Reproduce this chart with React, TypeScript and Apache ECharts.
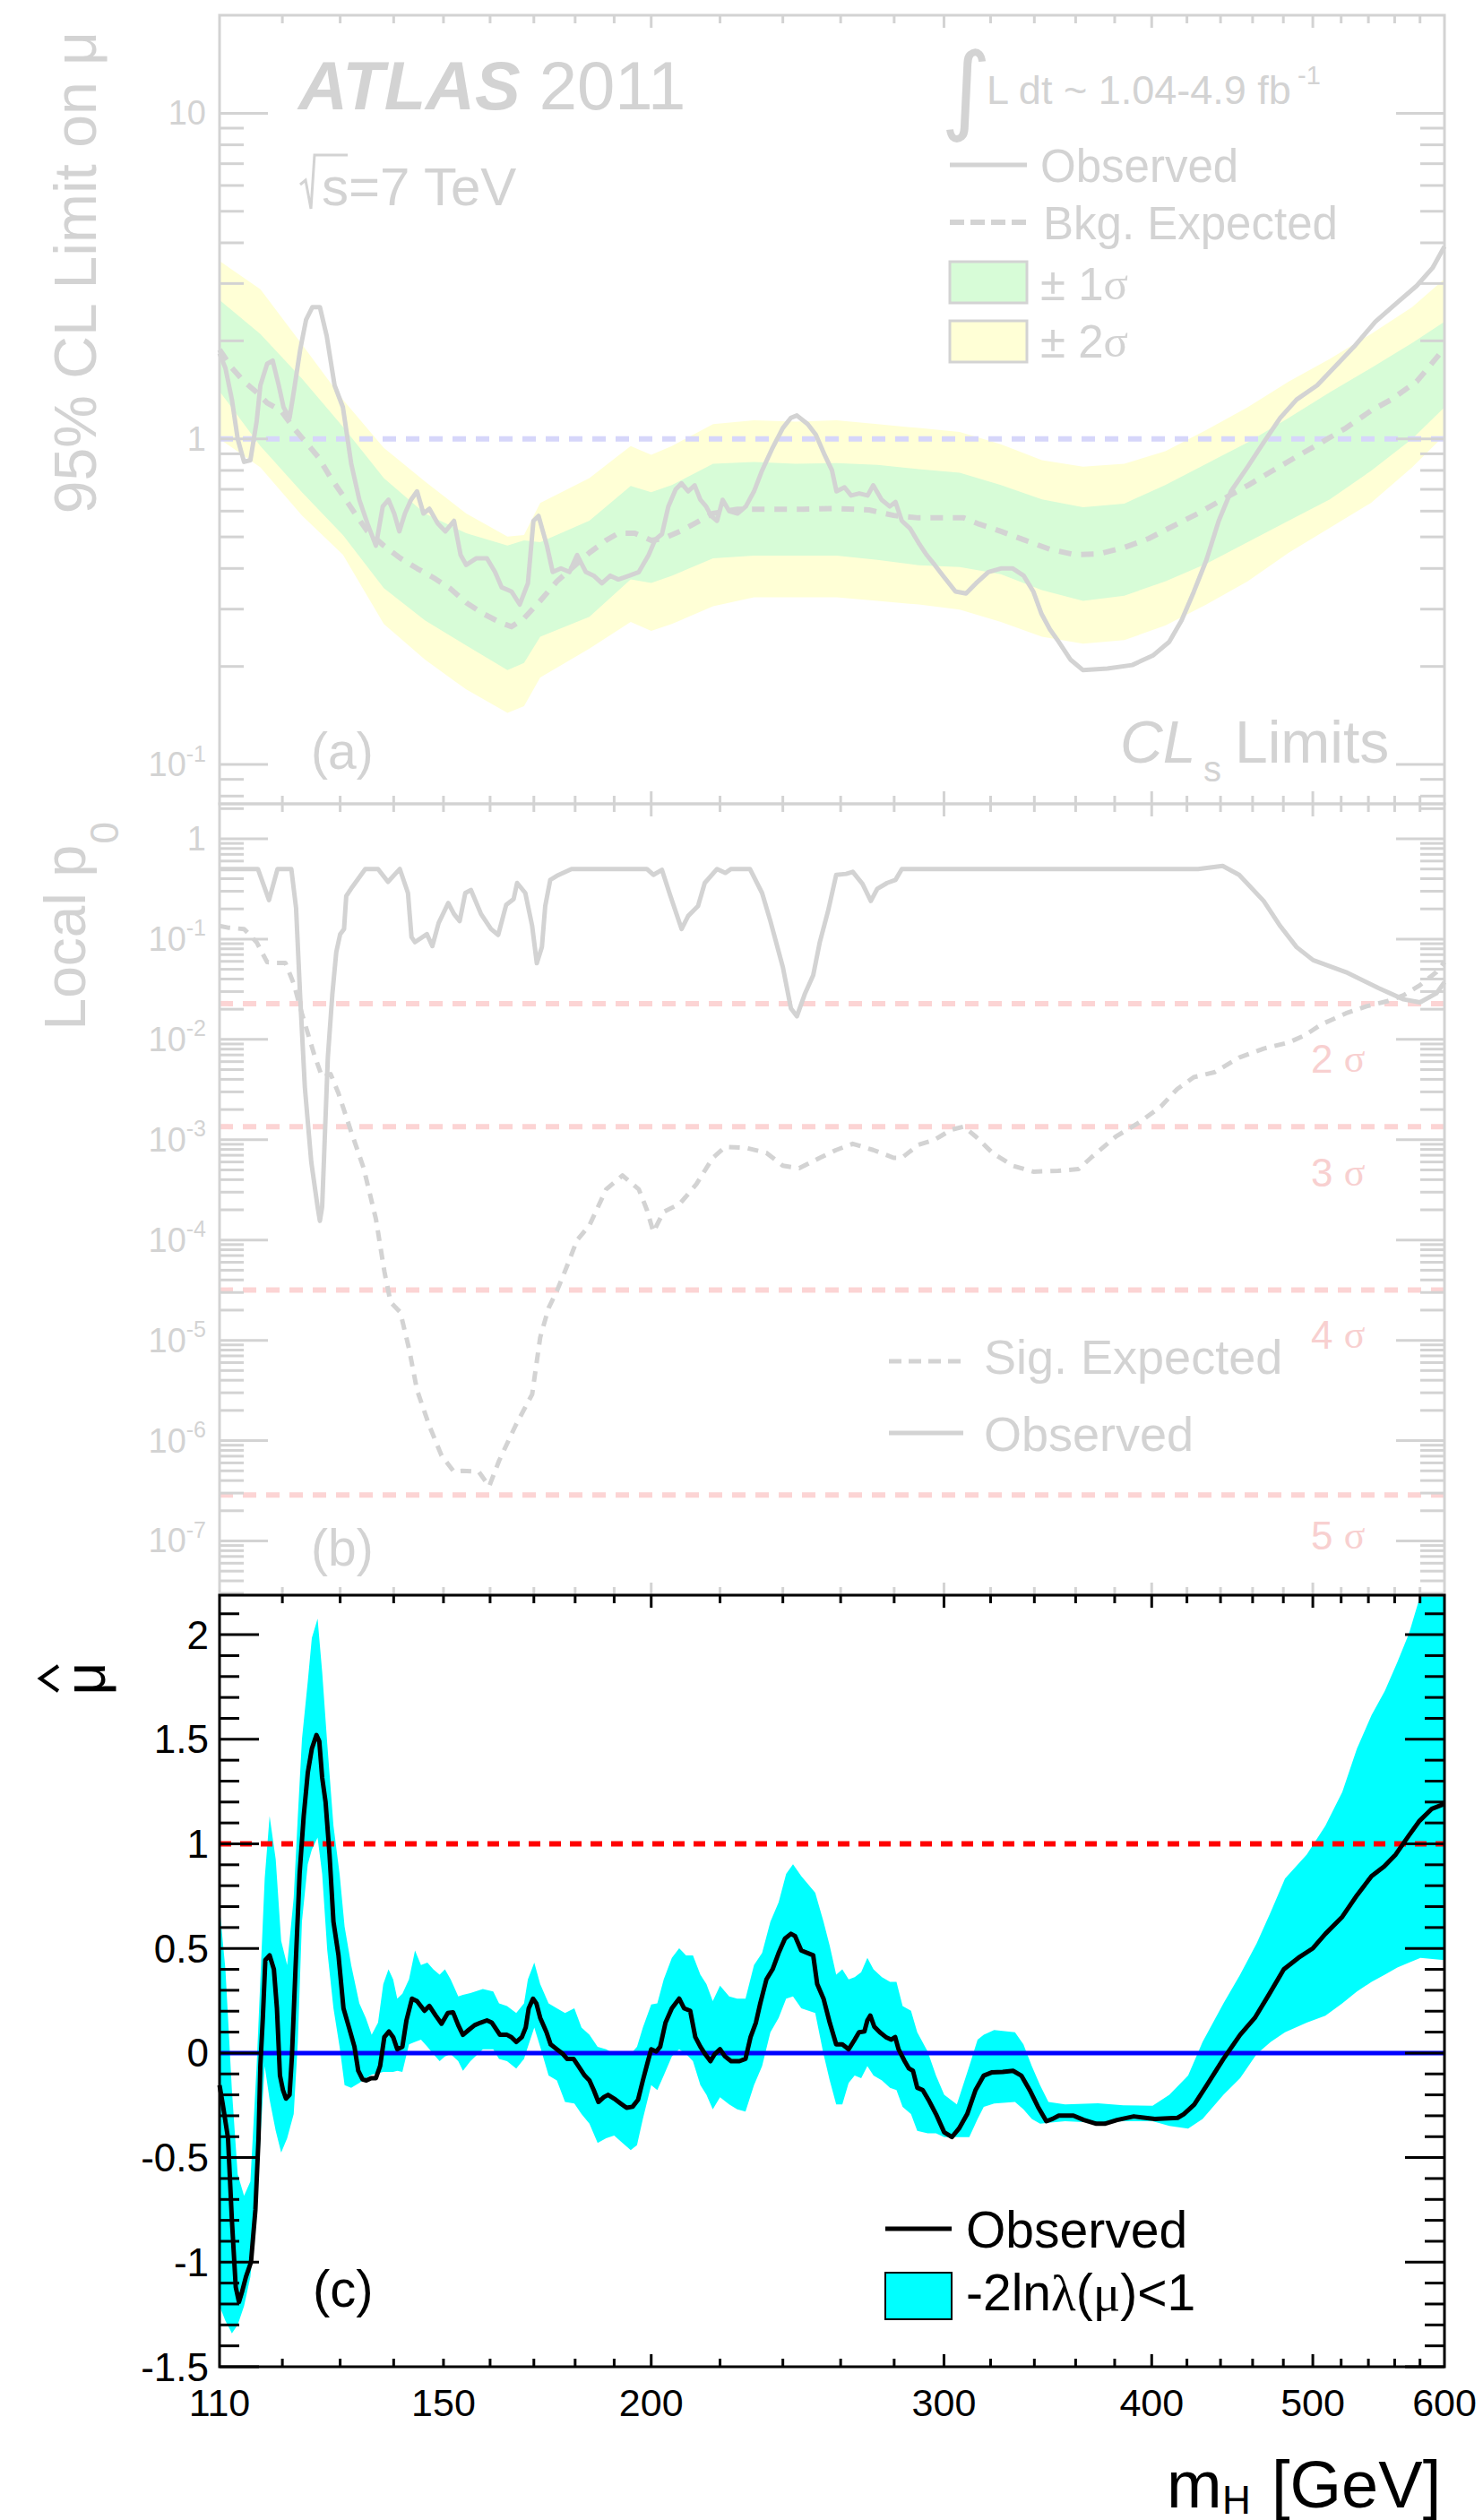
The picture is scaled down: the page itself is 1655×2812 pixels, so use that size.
import React, { useEffect, useRef } from 'react';
import * as echarts from 'echarts';

const FONT = 'Liberation Sans';
const SERIF = 'Liberation Serif';
const GRAY = '#d3d3d3';
const GREEN = '#d7fcd7';
const YELLOW = '#ffffd6';
const LBLUE = '#d6d6fa';
const LRED = '#fcd4d4';
const SIGRED = '#f8d0d0';
const CYAN = '#00ffff';

const lg = (v: number) => Math.log10(v);
const id = (v: number) => v;

// ---------- axis ranges ----------
const X_MIN = 110, X_MAX = 600;
const A_Y_MIN = 0.0757, A_Y_MAX = 20.0;
const B_Y_MIN = 2.88e-8, B_Y_MAX = 2.23;
const C_Y_MIN = -1.5, C_Y_MAX = 2.189;

// ---------- ticks / labels ----------
const X_LABELS = [110, 150, 200, 300, 400, 500, 600];
const X_MINOR_TICKS = [120, 130, 140, 150, 160, 170, 180, 190, 220, 240, 260, 280, 320, 340, 360, 380, 420, 440, 460, 480, 520, 540, 560, 580];
const X_MAJOR_TICKS = [200, 300, 400, 500];
const A_DECADES = [0.1, 1, 10];
const B_DECADES = [1e-7, 1e-6, 1e-5, 1e-4, 1e-3, 1e-2, 1e-1, 1];
const C_MAJOR = [-1.5, -1, -0.5, 0, 0.5, 1, 1.5, 2];
const C_MINOR = [-1.4, -1.3, -1.2, -1.1, -0.9, -0.8, -0.7, -0.6, -0.4, -0.3, -0.2, -0.1, 0.1, 0.2, 0.3, 0.4, 0.6, 0.7, 0.8, 0.9, 1.1, 1.2, 1.3, 1.4, 1.6, 1.7, 1.8, 1.9, 2.1];

// ---------- panel (a): 95% CL limit on mu ----------
const A_OBS = [[110,1.83],[110.9,1.65],[111.9,1.32],[112.8,1.0],[113.8,0.85],[114.8,0.86],[115.8,1.13],[116.4,1.46],[117.5,1.70],[118.4,1.74],[119.4,1.46],[120.2,1.25],[121.2,1.16],[121.9,1.39],[123.0,1.88],[124.0,2.32],[125.1,2.54],[126.4,2.54],[127.6,2.07],[129.0,1.46],[130.5,1.25],[132.0,0.84],[133.5,0.65],[135.0,0.55],[136.6,0.47],[137.9,0.62],[139.0,0.65],[140.1,0.59],[141.1,0.52],[142.2,0.59],[143.4,0.65],[144.6,0.69],[145.9,0.59],[147.1,0.61],[148.8,0.55],[150.4,0.52],[152.2,0.56],[153.6,0.44],[154.8,0.41],[157.0,0.43],[159.3,0.43],[161.1,0.39],[162.6,0.35],[164.8,0.34],[166.7,0.31],[168.6,0.36],[169.9,0.56],[171.1,0.58],[173.1,0.47],[174.5,0.39],[176.5,0.40],[178.6,0.39],[180.5,0.44],[182.7,0.39],[184.7,0.38],[186.8,0.36],[189.0,0.38],[191.1,0.37],[194.0,0.38],[196.6,0.39],[199.3,0.44],[201.1,0.49],[203.0,0.51],[204.8,0.62],[206.9,0.70],[208.6,0.73],[210.5,0.69],[212.4,0.72],[214.1,0.65],[215.8,0.62],[217.3,0.58],[219.1,0.56],[220.8,0.65],[222.8,0.60],[225.4,0.59],[228.0,0.62],[230.6,0.69],[233.2,0.80],[236.4,0.93],[240.0,1.08],[242.7,1.16],[244.7,1.18],[248.4,1.11],[251.2,1.03],[254.1,0.90],[256.9,0.80],[258.5,0.69],[261.4,0.71],[263.8,0.67],[266.8,0.68],[269.9,0.67],[272.0,0.72],[275.2,0.65],[278.3,0.62],[280.5,0.64],[283.0,0.56],[286.3,0.53],[289.6,0.48],[292.9,0.44],[296.2,0.41],[299.6,0.38],[304.8,0.34],[309.3,0.335],[313.6,0.36],[319.0,0.39],[324.6,0.40],[330.0,0.40],[335.0,0.38],[339.5,0.34],[343.4,0.29],[347.4,0.26],[351.3,0.24],[357.4,0.21],[363.6,0.195],[376.2,0.197],[389.3,0.202],[400.6,0.216],[409.8,0.238],[416.9,0.277],[424.0,0.339],[431.5,0.425],[438.9,0.56],[446.4,0.69],[456.8,0.82],[467.1,0.975],[477.9,1.16],[488.9,1.32],[503.0,1.46],[517.5,1.70],[529.4,1.92],[545.3,2.29],[561.0,2.60],[577.3,2.95],[590.2,3.35],[600,3.9]];
const A_EXP = [[110,1.88],[111.9,1.65],[113.8,1.50],[115.8,1.39],[117.5,1.29],[119.8,1.22],[121.9,1.08],[124.0,0.975],[126.1,0.88],[128.3,0.76],[130.5,0.67],[132.7,0.59],[135.0,0.52],[138.1,0.47],[141.3,0.43],[144.6,0.40],[147.9,0.375],[151.3,0.348],[154.8,0.314],[158.4,0.291],[162.0,0.274],[164.8,0.265],[167.7,0.281],[171.5,0.318],[175.5,0.365],[179.5,0.404],[183.6,0.447],[187.9,0.488],[191.1,0.513],[195.5,0.513],[200.0,0.488],[203.4,0.494],[208.1,0.52],[212.9,0.553],[217.8,0.59],[225.4,0.608],[235.9,0.608],[246.9,0.608],[258.5,0.611],[270.4,0.605],[279.8,0.582],[289.6,0.572],[299.6,0.572],[308.3,0.572],[315.1,0.547],[324.6,0.52],[335.7,0.488],[347.4,0.458],[359.4,0.441],[371.9,0.443],[385.1,0.464],[398.3,0.494],[412.1,0.54],[426.5,0.59],[441.3,0.652],[457.3,0.721],[472.6,0.797],[488.9,0.882],[505.9,0.975],[523.5,1.08],[541.9,1.22],[557.3,1.32],[577.3,1.50],[586.5,1.65],[600,1.9]];
const A_BAND_MASS = [110,116.4,123.3,130.5,138.1,146.2,154.8,163.9,167.7,171.5,183.6,194.4,200.0,205.8,217.9,230.6,244.2,258.5,273.6,289.7,306.6,324.6,343.6,363.7,385.1,407.6,431.5,456.8,483.6,511.9,541.9,573.7,600];
const A_1S_HI = [2.67,2.10,1.53,1.09,0.758,0.59,0.513,0.47,0.488,0.482,0.561,0.717,0.686,0.721,0.839,0.849,0.839,0.843,0.832,0.807,0.787,0.721,0.652,0.617,0.633,0.721,0.839,0.975,1.16,1.39,1.65,1.97,2.29];
const A_1S_LO = [1.40,0.951,0.686,0.507,0.348,0.277,0.232,0.195,0.205,0.247,0.284,0.37,0.361,0.38,0.43,0.438,0.438,0.438,0.425,0.409,0.404,0.384,0.343,0.318,0.33,0.365,0.414,0.482,0.561,0.652,0.797,1.0,1.25];
const A_2S_HI = [3.52,2.88,1.95,1.32,0.939,0.74,0.59,0.501,0.507,0.636,0.758,0.951,0.893,0.951,1.11,1.14,1.13,1.14,1.11,1.08,1.05,0.963,0.86,0.822,0.839,0.916,1.065,1.25,1.50,1.76,2.10,2.54,3.10];
const A_2S_LO = [1.0,0.818,0.582,0.441,0.27,0.21,0.17,0.144,0.151,0.185,0.227,0.274,0.257,0.27,0.306,0.326,0.326,0.326,0.318,0.31,0.299,0.274,0.247,0.235,0.241,0.267,0.31,0.365,0.447,0.533,0.636,0.818,1.025];
const A_REF_LIMIT = 1;

// ---------- panel (b): local p0 ----------
const B_OBS = [[110,0.5],[116,0.5],[117.8,0.245],[119.2,0.5],[121.5,0.5],[122.3,0.204],[123.0,0.0263],[123.8,0.00331],[124.9,6.0e-4],[126.0,2.14e-4],[126.4,1.55e-4],[126.8,2.14e-4],[127.2,8.5e-4],[127.8,0.0066],[128.6,0.0282],[129.3,0.0741],[130.0,0.112],[130.7,0.126],[131.1,0.269],[132.2,0.331],[134.6,0.5],[137.0,0.5],[138.9,0.372],[141.2,0.5],[142.8,0.288],[143.5,0.105],[144.2,0.0933],[146.6,0.112],[147.7,0.0851],[149.0,0.145],[151.0,0.229],[152.2,0.178],[153.4,0.151],[154.6,0.288],[155.8,0.309],[158.0,0.178],[160.2,0.126],[161.8,0.11],[163.6,0.219],[165.3,0.251],[166.1,0.363],[168.0,0.288],[169.6,0.135],[170.7,0.0575],[171.9,0.0832],[172.7,0.214],[173.9,0.389],[175.5,0.427],[179.1,0.5],[198.8,0.5],[200.6,0.437],[203.0,0.49],[205.3,0.275],[208.6,0.126],[210.5,0.17],[213.4,0.214],[215.4,0.363],[219.1,0.5],[221.6,0.457],[223.4,0.5],[229.3,0.5],[233.2,0.288],[235.9,0.151],[240.0,0.0525],[242.7,0.0204],[244.7,0.017],[247.5,0.0288],[250.3,0.0437],[252.6,0.0933],[255.5,0.19],[258.4,0.437],[262.0,0.447],[264.4,0.468],[268.0,0.355],[271.1,0.24],[273.5,0.316],[277.3,0.363],[280.5,0.389],[283.0,0.5],[426.5,0.5],[441.3,0.537],[451.5,0.437],[467.1,0.24],[477.9,0.135],[488.9,0.0832],[500.2,0.0617],[523.5,0.0468],[547.9,0.0324],[566.9,0.0251],[580.0,0.0234],[593.3,0.0288],[600,0.0372]];
const B_EXP = [[110,0.135],[111.3,0.13],[113.8,0.126],[115.8,0.093],[117.5,0.059],[119.1,0.058],[120.5,0.058],[121.9,0.036],[123.3,0.018],[125.4,0.0071],[126.8,0.0042],[128.3,0.0045],[129.7,0.0029],[132.0,0.0012],[134.3,5.2e-4],[136.6,1.62e-4],[138.2,4.9e-5],[139.4,2.4e-5],[141.3,1.9e-5],[143.0,8.3e-6],[144.6,3.2e-6],[147.1,1.4e-6],[149.6,7.1e-7],[152.2,4.9e-7],[153.9,5.0e-7],[157.5,4.9e-7],[159.8,3.5e-7],[162.0,6.3e-7],[165.7,1.4e-6],[169.6,2.9e-6],[171.5,1.07e-5],[173.5,2.1e-5],[175.5,3.1e-5],[177.5,4.9e-5],[180.5,1.0e-4],[183.6,1.4e-4],[187.9,3.2e-4],[192.2,4.4e-4],[196.6,3.2e-4],[198.8,2.0e-4],[200.6,1.2e-4],[203.4,1.9e-4],[208.1,2.3e-4],[212.9,3.6e-4],[217.8,6.6e-4],[221.6,8.5e-4],[228.0,8.3e-4],[234.6,7.4e-4],[240.0,5.5e-4],[245.5,5.2e-4],[252.6,6.6e-4],[258.4,7.9e-4],[264.4,9.1e-4],[272.0,7.9e-4],[279.8,6.6e-4],[283.0,6.6e-4],[289.6,8.9e-4],[296.2,1.0e-3],[303.1,1.26e-3],[308.3,1.35e-3],[313.6,1.07e-3],[320.8,7.4e-4],[330.0,5.5e-4],[339.5,4.8e-4],[351.3,4.9e-4],[361.5,5.1e-4],[367.7,6.6e-4],[380.5,1.07e-3],[393.7,1.51e-3],[405.1,2.14e-3],[414.4,3.2e-3],[424.0,4.2e-3],[436.3,4.7e-3],[451.5,6.6e-3],[467.1,8.1e-3],[483.4,9.3e-3],[494.5,0.011],[505.9,0.0141],[523.5,0.0182],[538.6,0.0214],[554.2,0.024],[566.9,0.0275],[580.0,0.0347],[593.3,0.0468],[600,0.059]];
const SIGMA_P0 = [0.02275, 1.35e-3, 3.17e-5, 2.87e-7];

// ---------- panel (c): best-fit mu ----------
const C_OBS = [[110,-0.154],[110.5,-0.246],[111.3,-0.407],[111.9,-0.8],[112.5,-1.12],[113.0,-1.19],[113.5,-1.14],[114.1,-1.07],[114.9,-1.0],[115.6,-0.75],[116.1,-0.41],[116.4,-0.06],[116.8,0.168],[117.2,0.444],[117.9,0.467],[118.6,0.4],[119.1,0.214],[119.6,-0.108],[120.1,-0.177],[120.6,-0.218],[121.2,-0.2],[121.6,-0.016],[122.2,0.4],[122.9,0.857],[123.6,1.133],[124.3,1.34],[125.0,1.455],[125.8,1.52],[126.3,1.49],[126.8,1.317],[127.4,1.2],[128.1,0.949],[128.8,0.628],[129.7,0.467],[130.6,0.214],[131.6,0.122],[132.6,0.03],[133.3,-0.085],[134.1,-0.126],[134.8,-0.131],[135.7,-0.12],[136.6,-0.12],[137.4,-0.062],[138.2,0.076],[139.1,0.103],[139.9,0.076],[140.7,0.018],[141.7,0.03],[142.5,0.156],[143.6,0.26],[144.6,0.248],[146.1,0.202],[147.1,0.225],[148.4,0.179],[149.6,0.14],[150.9,0.191],[152.0,0.195],[153.1,0.133],[154.1,0.087],[155.3,0.11],[156.6,0.133],[157.9,0.145],[159.3,0.156],[160.4,0.145],[161.1,0.122],[162.2,0.087],[163.8,0.087],[164.8,0.076],[165.9,0.053],[167.2,0.076],[168.1,0.122],[168.8,0.214],[169.8,0.26],[170.6,0.237],[171.5,0.168],[173.0,0.099],[174.0,0.041],[175.5,0.018],[177.0,-0.005],[178.0,-0.028],[179.6,-0.028],[180.8,-0.062],[182.4,-0.108],[183.6,-0.131],[184.7,-0.177],[185.9,-0.234],[187.3,-0.211],[188.4,-0.2],[190.0,-0.218],[191.7,-0.241],[193.3,-0.262],[194.9,-0.257],[196.4,-0.223],[197.7,-0.131],[199.1,-0.039],[200.0,0.018],[201.4,0.007],[202.5,0.03],[204.0,0.145],[205.8,0.214],[207.9,0.26],[209.3,0.214],[211.1,0.202],[212.6,0.076],[214.1,0.03],[215.5,-0.005],[217.1,-0.039],[218.4,-0.005],[220.0,0.018],[221.5,-0.016],[223.4,-0.039],[226.0,-0.039],[227.9,-0.028],[229.5,0.076],[231.2,0.145],[232.6,0.237],[234.6,0.352],[236.6,0.4],[238.6,0.478],[240.7,0.547],[242.7,0.57],[244.1,0.559],[246.2,0.49],[250.3,0.467],[251.7,0.329],[253.9,0.26],[256.1,0.145],[258.4,0.041],[260.6,0.041],[262.9,0.018],[265.1,0.064],[266.7,0.099],[268.7,0.103],[269.8,0.156],[270.9,0.179],[272.4,0.126],[274.5,0.099],[276.8,0.076],[278.9,0.064],[280.4,0.076],[281.7,0.018],[284.1,-0.039],[285.8,-0.074],[287.4,-0.085],[289.1,-0.166],[291.3,-0.177],[293.6,-0.223],[296.7,-0.292],[300.1,-0.379],[303.3,-0.402],[306.3,-0.361],[309.8,-0.292],[313.4,-0.177],[317.0,-0.108],[320.7,-0.092],[325.4,-0.09],[330.1,-0.085],[333.9,-0.108],[337.8,-0.177],[341.7,-0.257],[345.7,-0.326],[348.7,-0.315],[351.7,-0.299],[358.9,-0.299],[364.1,-0.32],[370.5,-0.338],[374.8,-0.338],[381.3,-0.32],[390.2,-0.303],[401.7,-0.315],[414.6,-0.31],[418.2,-0.292],[424.3,-0.246],[431.7,-0.154],[441.8,-0.028],[452.1,0.087],[461.4,0.168],[470.8,0.283],[480.3,0.4],[490.1,0.455],[500.1,0.501],[508.8,0.57],[520.8,0.651],[531.5,0.754],[542.4,0.846],[551.9,0.892],[560.8,0.949],[571.3,1.041],[579.6,1.11],[589.7,1.168],[600,1.191]];
const C_BAND_MASS = [110,110.9,111.9,112.8,113.8,114.8,115.8,116.4,117.1,117.9,118.9,119.8,120.8,121.9,122.6,123.3,124.3,125.0,126.0,126.8,127.7,128.8,129.9,130.8,132.0,133.5,134.7,135.8,137.0,138.0,139.0,139.9,140.7,141.7,143.0,144.2,145.4,146.7,147.9,149.2,150.3,151.5,153.1,154.1,155.7,158.4,160.7,162.0,163.8,165.9,167.7,168.6,170.1,171.5,173.5,175.5,177.5,179.8,181.6,183.6,185.7,187.9,190.0,192.2,194.4,196.1,197.7,200.0,201.7,203.5,205.8,207.9,209.9,211.9,214.1,215.9,217.8,220.0,222.8,225.3,227.9,230.6,233.2,235.9,238.6,241.1,243.4,246.2,251.0,253.9,256.1,258.4,260.6,262.9,265.1,267.5,269.8,272.1,275.3,278.4,280.9,283.3,286.6,289.1,293.3,296.7,300.1,305.4,310.7,314.3,317.0,321.6,331.0,334.9,338.8,342.7,346.7,354.8,371.3,384.6,400.5,409.9,420.7,429.2,441.8,452.1,462.6,471.7,481.1,495.8,508.8,520.8,531.5,542.4,552.4,562.1,571.3,580.4,600];
const C_BAND_HI = [0.697,0.4,-0.177,-0.58,-0.683,-0.614,-0.062,0.352,0.834,1.133,0.926,0.536,0.421,0.743,1.133,1.50,1.777,1.984,2.076,1.823,1.478,1.087,0.857,0.605,0.421,0.237,0.168,0.087,0.145,0.329,0.4,0.352,0.26,0.283,0.352,0.49,0.421,0.432,0.4,0.375,0.4,0.352,0.271,0.278,0.287,0.306,0.294,0.237,0.225,0.191,0.237,0.352,0.432,0.329,0.237,0.214,0.191,0.214,0.122,0.087,0.03,0.018,-0.005,-0.005,-0.005,0.03,0.122,0.232,0.237,0.352,0.455,0.501,0.467,0.467,0.375,0.329,0.248,0.322,0.271,0.26,0.26,0.421,0.478,0.628,0.72,0.857,0.903,0.846,0.766,0.628,0.513,0.375,0.4,0.352,0.363,0.386,0.455,0.4,0.363,0.34,0.34,0.225,0.202,0.099,0.007,-0.108,-0.2,-0.246,-0.062,0.064,0.087,0.11,0.099,0.041,-0.062,-0.154,-0.234,-0.246,-0.24,-0.25,-0.252,-0.2,-0.108,0.053,0.237,0.375,0.524,0.674,0.834,0.949,1.087,1.248,1.455,1.616,1.731,1.869,2.007,2.19,2.5];
const C_BAND_LO = [-1.21,-1.28,-1.34,-1.3,-1.21,-1.07,-0.75,-0.407,-0.062,-0.223,-0.372,-0.476,-0.407,-0.292,0.053,0.628,0.903,0.972,1.03,0.857,0.49,0.214,0.03,-0.154,-0.166,-0.143,-0.12,-0.103,-0.097,-0.09,-0.09,-0.09,-0.085,-0.09,0.041,0.053,0.064,0.03,-0.005,-0.039,-0.016,-0.005,-0.039,-0.085,-0.039,0.018,0.018,-0.028,-0.039,-0.074,-0.028,0.03,0.122,0.03,-0.108,-0.131,-0.234,-0.241,-0.292,-0.338,-0.43,-0.407,-0.395,-0.43,-0.464,-0.441,-0.315,-0.154,-0.177,-0.108,-0.016,0.018,-0.005,-0.039,-0.154,-0.2,-0.269,-0.211,-0.246,-0.269,-0.28,-0.154,-0.062,0.099,0.168,0.26,0.271,0.214,0.191,-0.005,-0.131,-0.246,-0.246,-0.143,-0.108,-0.12,-0.062,-0.108,-0.131,-0.166,-0.177,-0.257,-0.292,-0.372,-0.384,-0.384,-0.402,-0.402,-0.402,-0.315,-0.257,-0.241,-0.234,-0.269,-0.315,-0.338,-0.333,-0.326,-0.333,-0.326,-0.326,-0.349,-0.361,-0.315,-0.2,-0.12,-0.005,0.053,0.099,0.145,0.179,0.237,0.294,0.34,0.375,0.409,0.432,0.455,0.444];
const C_REF_SM = 1;
const C_REF_ZERO = 0;

// ---------- layout ----------
const GRIDS = [
  { left: 245, top: 17, width: 1367, height: 880 },
  { left: 245, top: 897, width: 1367, height: 883 },
  { left: 245, top: 1780, width: 1367, height: 861 },
];

function minorLogTicks(lo: number, hi: number) {
  const out: number[] = [];
  for (let d = -9; d <= 2; d++) {
    for (let k = 2; k <= 9; k++) {
      const v = k * Math.pow(10, d);
      if (v > lo && v < hi) out.push(v);
    }
  }
  return out;
}

function frameRenderer(cfg: any) {
  return (params: any, api: any) => {
    const bl = api.coord([cfg.x0, cfg.y0]);
    const tr = api.coord([cfg.x1, cfg.y1]);
    const L = bl[0], B = bl[1], R = tr[0], T = tr[1];
    const st = { stroke: cfg.color, lineWidth: cfg.lw, fill: 'none' };
    const children: any[] = [];
    cfg.xTicks.forEach((t: number[]) => {
      const px = api.coord([t[0], cfg.y0])[0];
      children.push({ type: 'line', shape: { x1: px, y1: B, x2: px, y2: B - t[1] }, style: st });
      children.push({ type: 'line', shape: { x1: px, y1: T, x2: px, y2: T + t[1] }, style: st });
    });
    cfg.yTicks.forEach((t: number[]) => {
      const py = api.coord([cfg.x0, t[0]])[1];
      children.push({ type: 'line', shape: { x1: L, y1: py, x2: L + t[1], y2: py }, style: st });
      children.push({ type: 'line', shape: { x1: R, y1: py, x2: R - t[1], y2: py }, style: st });
    });
    children.push({ type: 'rect', shape: { x: L, y: T, width: R - L, height: B - T }, style: st });
    return { type: 'group', children };
  };
}

function bandRenderer(mass: number[], lo: number[], hi: number[], fill: string, ty: (v: number) => number) {
  return (params: any, api: any) => {
    if (params.dataIndex !== 0) return { type: 'group', children: [] };
    const up = mass.map((m, i) => api.coord([lg(m), ty(hi[i])]));
    const dn = mass.map((m, i) => api.coord([lg(m), ty(lo[i])])).reverse();
    return { type: 'polygon', shape: { points: up.concat(dn) }, style: { fill } };
  };
}

function lineSeries(grid: number, pts: number[][], ty: (v: number) => number, color: string, width: number, dash: any, z: number) {
  return {
    type: 'line', xAxisIndex: grid, yAxisIndex: grid, silent: true, z,
    data: pts.map((p) => [lg(p[0]), ty(p[1])]),
    showSymbol: false, symbol: 'none', clip: true,
    lineStyle: { color, width, type: dash, join: 'round', cap: 'butt' },
  };
}

function hLine(grid: number, v: number, ty: (v: number) => number, color: string, width: number, dash: any, z: number) {
  return lineSeries(grid, [[X_MIN, v], [X_MAX, v]], ty, color, width, dash, z);
}

function bandSeries(grid: number, mass: number[], lo: number[], hi: number[], fill: string, ty: (v: number) => number, z: number) {
  return {
    type: 'custom', xAxisIndex: grid, yAxisIndex: grid, silent: true, z, clip: true,
    data: mass.map((m, i) => [lg(m), ty(lo[i]), ty(hi[i])]),
    encode: { x: 0, y: [1, 2] },
    renderItem: bandRenderer(mass, lo, hi, fill, ty),
  };
}

function frameSeries(grid: number, y0: number, y1: number, yTicks: number[][], color: string, z: number) {
  const xTicks = X_MINOR_TICKS.map((v) => [lg(v), 9]).concat(X_MAJOR_TICKS.map((v) => [lg(v), 14]));
  return {
    type: 'custom', xAxisIndex: grid, yAxisIndex: grid, silent: true, z, clip: false,
    data: [[lg(X_MIN), y0]],
    encode: { x: 0, y: 1 },
    renderItem: frameRenderer({ x0: lg(X_MIN), x1: lg(X_MAX), y0, y1, xTicks, yTicks, color, lw: 3 }),
  };
}

const powLabel = (v: number) => {
  const e = Math.round(v);
  if (e === 0) return '{n|1}';
  if (e === 1) return '{n|10}';
  return '{n|10}{e|' + e + '}';
};

const powRich = {
  n: { fontSize: 38, fontFamily: FONT, color: GRAY, lineHeight: 50 },
  e: { fontSize: 25, fontFamily: FONT, color: GRAY, lineHeight: 30, verticalAlign: 'top' },
};

function txt(x: number, y: number, text: string, size: number, color: string, extra: any = {}) {
  return {
    type: 'text', x, y, silent: true, z: 20,
    style: { text, fontSize: size, fontFamily: FONT, fill: color, align: 'left', verticalAlign: 'middle', ...extra },
  };
}

function buildOption() {
  const xAxis = GRIDS.map((g, i) => ({
    type: 'value', gridIndex: i, min: lg(X_MIN), max: lg(X_MAX),
    axisLine: { show: false }, axisTick: { show: false }, splitLine: { show: false },
    axisLabel: i === 2
      ? { customValues: X_LABELS.map(lg), formatter: (v: number) => String(Math.round(Math.pow(10, v))), fontSize: 43, color: '#000', fontFamily: FONT, margin: 18 }
      : { show: false },
  }));
  const yAxis = [
    {
      type: 'value', gridIndex: 0, min: lg(A_Y_MIN), max: lg(A_Y_MAX),
      axisLine: { show: false }, axisTick: { show: false }, splitLine: { show: false },
      axisLabel: { customValues: A_DECADES.map(lg), formatter: powLabel, rich: powRich, margin: 15 },
    },
    {
      type: 'value', gridIndex: 1, min: lg(B_Y_MIN), max: lg(B_Y_MAX),
      axisLine: { show: false }, axisTick: { show: false }, splitLine: { show: false },
      axisLabel: { customValues: B_DECADES.map(lg), formatter: powLabel, rich: powRich, margin: 15 },
    },
    {
      type: 'value', gridIndex: 2, min: C_Y_MIN, max: C_Y_MAX,
      axisLine: { show: false }, axisTick: { show: false }, splitLine: { show: false },
      axisLabel: { customValues: C_MAJOR, formatter: (v: number) => String(Math.round(v * 10) / 10), fontSize: 44, color: '#000', fontFamily: FONT, margin: 12 },
    },
  ];

  const aTicks = A_DECADES.map((v) => [lg(v), 54]).concat(minorLogTicks(A_Y_MIN, A_Y_MAX).map((v) => [lg(v), 27]));
  const bTicks = B_DECADES.map((v) => [lg(v), 54]).concat(minorLogTicks(B_Y_MIN, B_Y_MAX).map((v) => [lg(v), 27]));
  const cTicks = C_MAJOR.map((v) => [v, 44]).concat(C_MINOR.map((v) => [v, 22]));

  const series: any[] = [
    // panel a
    bandSeries(0, A_BAND_MASS, A_2S_LO, A_2S_HI, YELLOW, lg, 1),
    bandSeries(0, A_BAND_MASS, A_1S_LO, A_1S_HI, GREEN, lg, 1),
    hLine(0, A_REF_LIMIT, lg, LBLUE, 6, [15, 11], 2),
    lineSeries(0, A_EXP, lg, GRAY, 6, [14, 11], 3),
    lineSeries(0, A_OBS, lg, GRAY, 5, 'solid', 3),
    frameSeries(0, lg(A_Y_MIN), lg(A_Y_MAX), aTicks, GRAY, 4),
    // panel b
    ...SIGMA_P0.map((p) => hLine(1, p, lg, LRED, 6, [15, 11], 2)),
    lineSeries(1, B_EXP, lg, GRAY, 5, [12, 9], 3),
    lineSeries(1, B_OBS, lg, GRAY, 5, 'solid', 3),
    frameSeries(1, lg(B_Y_MIN), lg(B_Y_MAX), bTicks, GRAY, 4),
    // panel c
    bandSeries(2, C_BAND_MASS, C_BAND_LO, C_BAND_HI, CYAN, id, 1),
    hLine(2, C_REF_ZERO, id, '#0000ff', 5, 'solid', 2),
    hLine(2, C_REF_SM, id, '#ff0000', 6, [13, 10], 2),
    lineSeries(2, C_OBS, id, '#000000', 5, 'solid', 3),
    frameSeries(2, C_Y_MIN, C_Y_MAX, cTicks, '#000000', 5),
  ];

  const g = (size: number) => ({ g: { fontFamily: SERIF, fontSize: size } });

  const graphic: any[] = [
    // ---- panel a texts ----
    txt(333, 95, '{b|ATLAS} {n|2011}', 76, GRAY, {
      rich: {
        b: { fontSize: 76, fontFamily: FONT, fontWeight: 'bold', fontStyle: 'italic', fill: GRAY },
        n: { fontSize: 76, fontFamily: FONT, fill: GRAY },
      },
    }),
    { type: 'polyline', silent: true, z: 20, shape: { points: [[335, 206], [341, 201], [347, 233], [351, 173], [388, 173]] }, style: { stroke: GRAY, lineWidth: 3, fill: 'none' } },
    txt(359, 208, 's=7 TeV', 60, GRAY),
    txt(1078, 98, '∫', 108, GRAY, { fontFamily: 'DejaVu Sans', align: 'center' }),
    txt(1101, 100, 'L dt ~ 1.04-4.9 fb', 45, GRAY),
    txt(1448, 84, '-1', 29, GRAY),
    { type: 'line', silent: true, z: 20, shape: { x1: 1060, y1: 184, x2: 1146, y2: 184 }, style: { stroke: GRAY, lineWidth: 5 } },
    txt(1161, 185, 'Observed', 51, GRAY),
    { type: 'line', silent: true, z: 20, shape: { x1: 1060, y1: 248, x2: 1146, y2: 248 }, style: { stroke: GRAY, lineWidth: 6, lineDash: [16, 7] } },
    txt(1164, 249, 'Bkg. Expected', 51, GRAY),
    { type: 'rect', silent: true, z: 20, shape: { x: 1060, y: 292, width: 86, height: 46 }, style: { fill: GREEN, stroke: GRAY, lineWidth: 3 } },
    txt(1161, 317, '± 1{g|σ}', 51, GRAY, { rich: g(51) }),
    { type: 'rect', silent: true, z: 20, shape: { x: 1060, y: 358, width: 86, height: 46 }, style: { fill: YELLOW, stroke: GRAY, lineWidth: 3 } },
    txt(1161, 381, '± 2{g|σ}', 51, GRAY, { rich: g(51) }),
    txt(347, 838, '(a)', 57, GRAY),
    txt(1250, 828, 'CL', 66, GRAY, { fontStyle: 'italic' }),
    txt(1343, 858, 's', 40, GRAY),
    txt(1378, 828, 'Limits', 66, GRAY),
    { type: 'text', silent: true, z: 20, x: 84, y: 35, rotation: Math.PI / 2, style: { text: '95% CL Limit on μ', fontSize: 66, fontFamily: FONT, fill: GRAY, align: 'right', verticalAlign: 'middle' } },
    // ---- panel b texts ----
    { type: 'text', silent: true, z: 20, x: 73, y: 943, rotation: Math.PI / 2, style: { text: 'Local p', fontSize: 64, fontFamily: FONT, fill: GRAY, align: 'right', verticalAlign: 'middle' } },
    { type: 'text', silent: true, z: 20, x: 116, y: 917, rotation: Math.PI / 2, style: { text: '0', fontSize: 44, fontFamily: FONT, fill: GRAY, align: 'right', verticalAlign: 'middle' } },
    { type: 'line', silent: true, z: 20, shape: { x1: 992, y1: 1519, x2: 1075, y2: 1519 }, style: { stroke: GRAY, lineWidth: 5, lineDash: [14, 8] } },
    txt(1098, 1514, 'Sig. Expected', 54, GRAY),
    { type: 'line', silent: true, z: 20, shape: { x1: 992, y1: 1599, x2: 1075, y2: 1599 }, style: { stroke: GRAY, lineWidth: 5 } },
    txt(1098, 1600, 'Observed', 54, GRAY),
    txt(1463, 1181, '2 {g|σ}', 44, SIGRED, { rich: g(44) }),
    txt(1463, 1308, '3 {g|σ}', 44, SIGRED, { rich: g(44) }),
    txt(1463, 1489, '4 {g|σ}', 44, SIGRED, { rich: g(44) }),
    txt(1463, 1713, '5 {g|σ}', 44, SIGRED, { rich: g(44) }),
    txt(347, 1727, '(b)', 57, GRAY),
    // ---- panel c texts ----
    {
      type: 'group', x: 95, y: 1873, rotation: Math.PI / 2, silent: true, z: 20,
      children: [
        { type: 'text', style: { text: 'μ', fontSize: 64, fontFamily: FONT, fill: '#000', align: 'center', verticalAlign: 'middle' } },
        { type: 'polyline', shape: { points: [[-14, -30], [0, -50], [14, -30]] }, style: { stroke: '#000', lineWidth: 4, fill: 'none' } },
      ],
    },
    { type: 'line', silent: true, z: 20, shape: { x1: 988, y1: 2487, x2: 1062, y2: 2487 }, style: { stroke: '#000', lineWidth: 5 } },
    txt(1078, 2488, 'Observed', 57, '#000'),
    { type: 'rect', silent: true, z: 20, shape: { x: 988, y: 2536, width: 74, height: 52 }, style: { fill: CYAN, stroke: '#000', lineWidth: 2 } },
    txt(1078, 2558, '-2ln{g|λ}({g|μ})<1', 57, '#000', { rich: g(57) }),
    txt(349, 2553, '(c)', 58, '#000'),
    txt(1302, 2772, 'm', 74, '#000'),
    txt(1364, 2789, 'H', 44, '#000'),
    txt(1419, 2772, '[GeV]', 74, '#000'),
  ];

  return {
    animation: false,
    backgroundColor: '#ffffff',
    textStyle: { fontFamily: FONT },
    grid: GRIDS.map((g) => ({ ...g, containLabel: false })),
    xAxis,
    yAxis,
    series,
    graphic: { elements: graphic },
  };
}

export default function App() {
  const ref = useRef<HTMLDivElement>(null);
  useEffect(() => {
    if (!ref.current) return;
    const chart = echarts.init(ref.current, null, { renderer: 'svg' });
    chart.setOption(buildOption() as any);
    return () => chart.dispose();
  }, []);
  return (
    <div
      ref={ref}
      style={{ position: 'absolute', left: 0, top: 0, width: 1655, height: 2812, background: '#fff' }}
    />
  );
}
